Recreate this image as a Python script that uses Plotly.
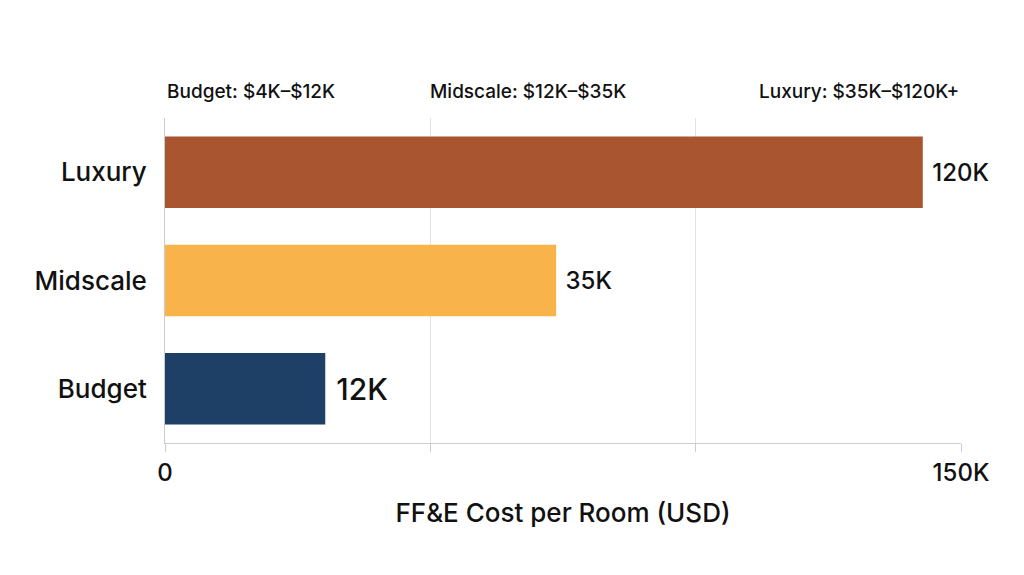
import plotly.graph_objects as go

categories = ["Budget", "Midscale", "Luxury"]
# bar lengths as drawn in the picture (thousands USD)
bar_lengths = [30.2, 73.7, 142.8]
value_labels = [" 12K", " 35K", " 120K"]
label_sizes = [30, 24, 24]
colors = ["#1E3F66", "#F8B44A", "#A9552F"]
ranges = ["Budget: $4K–$12K", "Midscale: $12K–$35K", "Luxury: $35K–$120K+"]
range_x = [0.0, 0.33, 1.0]
range_anchor = ["left", "left", "right"]

fig = go.Figure()
fig.add_trace(go.Bar(
    y=categories, x=bar_lengths, orientation="h",
    marker=dict(color=colors, line=dict(width=0)),
    text=value_labels, textposition="outside",
    textfont=dict(size=label_sizes, color="#111"),
    width=0.66, cliponaxis=False,
))

for txt, xp, anc in zip(ranges, range_x, range_anchor):
    fig.add_annotation(text=txt, xref="paper", yref="paper", x=xp, y=1.04,
                       xanchor=anc, yanchor="bottom", showarrow=False,
                       font=dict(size=19, color="#111", weight=500))

fig.update_layout(
    width=1024, height=575,
    margin=dict(l=157, r=71, t=110, b=140),
    plot_bgcolor="white", paper_bgcolor="white",
    font=dict(family="Inter, Noto Sans, sans-serif", color="#111", weight=500),
    showlegend=False, bargap=0.34,
)
fig.update_xaxes(
    range=[0, 150], tickvals=[0, 50, 100, 150], ticktext=["0", "", "", "150K"],
    showgrid=True, gridcolor="#E3E3E3", ticks="outside", ticklen=8,
    tickcolor="#CCCCCC", tickfont=dict(size=24), showline=True,
    linecolor="#CCCCCC", zeroline=False,
    title=dict(text="FF&E Cost per Room (USD)", font=dict(size=26), standoff=18),
)
fig.update_yaxes(
    showline=True, linecolor="#CCCCCC", tickfont=dict(size=26),
    ticks="", ticklabelstandoff=12,
)

fig.write_html("out.html")
